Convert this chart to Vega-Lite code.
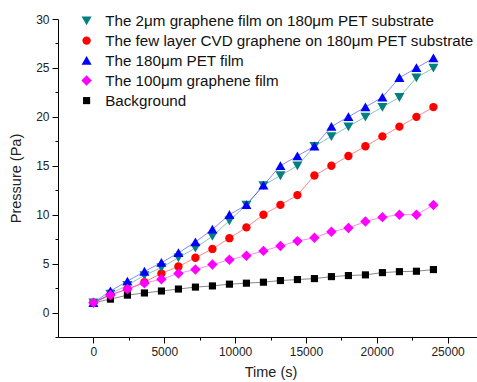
{
  "$schema": "https://vega.github.io/schema/vega-lite/v6.json",
  "autosize": {"type": "none"},
  "padding": {"left": 58, "top": 19, "right": 0, "bottom": 45},
  "width": 425,
  "height": 318,
  "background": "white",
  "config": {
    "view": {"stroke": null},
    "font": "Liberation Sans",
    "axis": {"grid": false, "domainColor": "#000", "tickColor": "#000", "labelColor": "#222", "titleColor": "#222", "labelFontSize": 12, "titleFontSize": 14.5, "titleFontWeight": "normal", "labelFont": "Liberation Sans", "titleFont": "Liberation Sans"}
  },
  "data": {"values": [
    {"s": "Background", "t": 0, "p": 1.0}, {"s": "Background", "t": 1200, "p": 1.37}, {"s": "Background", "t": 2400, "p": 1.78}, {"s": "Background", "t": 3600, "p": 2.0}, {"s": "Background", "t": 4800, "p": 2.2}, {"s": "Background", "t": 6000, "p": 2.4}, {"s": "Background", "t": 7200, "p": 2.6}, {"s": "Background", "t": 8400, "p": 2.72}, {"s": "Background", "t": 9600, "p": 2.9}, {"s": "Background", "t": 10800, "p": 3.0}, {"s": "Background", "t": 12000, "p": 3.1}, {"s": "Background", "t": 13200, "p": 3.27}, {"s": "Background", "t": 14400, "p": 3.37}, {"s": "Background", "t": 15600, "p": 3.47}, {"s": "Background", "t": 16800, "p": 3.67}, {"s": "Background", "t": 18000, "p": 3.78}, {"s": "Background", "t": 19200, "p": 3.85}, {"s": "Background", "t": 20400, "p": 4.08}, {"s": "Background", "t": 21600, "p": 4.18}, {"s": "Background", "t": 22800, "p": 4.22}, {"s": "Background", "t": 24000, "p": 4.39},
    {"s": "The few layer CVD graphene on 180μm PET substrate", "t": 0, "p": 1.0}, {"s": "The few layer CVD graphene on 180μm PET substrate", "t": 1200, "p": 1.8}, {"s": "The few layer CVD graphene on 180μm PET substrate", "t": 2400, "p": 2.4}, {"s": "The few layer CVD graphene on 180μm PET substrate", "t": 3600, "p": 3.1}, {"s": "The few layer CVD graphene on 180μm PET substrate", "t": 4800, "p": 4.0}, {"s": "The few layer CVD graphene on 180μm PET substrate", "t": 6000, "p": 4.7}, {"s": "The few layer CVD graphene on 180μm PET substrate", "t": 7200, "p": 5.6}, {"s": "The few layer CVD graphene on 180μm PET substrate", "t": 8400, "p": 6.5}, {"s": "The few layer CVD graphene on 180μm PET substrate", "t": 9600, "p": 7.6}, {"s": "The few layer CVD graphene on 180μm PET substrate", "t": 10800, "p": 8.7}, {"s": "The few layer CVD graphene on 180μm PET substrate", "t": 12000, "p": 10.0}, {"s": "The few layer CVD graphene on 180μm PET substrate", "t": 13200, "p": 11.0}, {"s": "The few layer CVD graphene on 180μm PET substrate", "t": 14400, "p": 12.0}, {"s": "The few layer CVD graphene on 180μm PET substrate", "t": 15600, "p": 14.0}, {"s": "The few layer CVD graphene on 180μm PET substrate", "t": 16800, "p": 15.0}, {"s": "The few layer CVD graphene on 180μm PET substrate", "t": 18000, "p": 16.0}, {"s": "The few layer CVD graphene on 180μm PET substrate", "t": 19200, "p": 17.0}, {"s": "The few layer CVD graphene on 180μm PET substrate", "t": 20400, "p": 18.0}, {"s": "The few layer CVD graphene on 180μm PET substrate", "t": 21600, "p": 19.0}, {"s": "The few layer CVD graphene on 180μm PET substrate", "t": 22800, "p": 20.0}, {"s": "The few layer CVD graphene on 180μm PET substrate", "t": 24000, "p": 21.0},
    {"s": "The 2μm graphene film on 180μm PET substrate", "t": 0, "p": 1.0}, {"s": "The 2μm graphene film on 180μm PET substrate", "t": 1200, "p": 1.9}, {"s": "The 2μm graphene film on 180μm PET substrate", "t": 2400, "p": 2.8}, {"s": "The 2μm graphene film on 180μm PET substrate", "t": 3600, "p": 3.8}, {"s": "The 2μm graphene film on 180μm PET substrate", "t": 4800, "p": 4.6}, {"s": "The 2μm graphene film on 180μm PET substrate", "t": 6000, "p": 5.6}, {"s": "The 2μm graphene film on 180μm PET substrate", "t": 7200, "p": 6.6}, {"s": "The 2μm graphene film on 180μm PET substrate", "t": 8400, "p": 7.8}, {"s": "The 2μm graphene film on 180μm PET substrate", "t": 9600, "p": 9.4}, {"s": "The 2μm graphene film on 180μm PET substrate", "t": 10800, "p": 11.0}, {"s": "The 2μm graphene film on 180μm PET substrate", "t": 12000, "p": 13.0}, {"s": "The 2μm graphene film on 180μm PET substrate", "t": 13200, "p": 14.0}, {"s": "The 2μm graphene film on 180μm PET substrate", "t": 14400, "p": 15.0}, {"s": "The 2μm graphene film on 180μm PET substrate", "t": 15600, "p": 17.0}, {"s": "The 2μm graphene film on 180μm PET substrate", "t": 16800, "p": 18.0}, {"s": "The 2μm graphene film on 180μm PET substrate", "t": 18000, "p": 19.0}, {"s": "The 2μm graphene film on 180μm PET substrate", "t": 19200, "p": 20.0}, {"s": "The 2μm graphene film on 180μm PET substrate", "t": 20400, "p": 21.0}, {"s": "The 2μm graphene film on 180μm PET substrate", "t": 21600, "p": 22.0}, {"s": "The 2μm graphene film on 180μm PET substrate", "t": 22800, "p": 24.0}, {"s": "The 2μm graphene film on 180μm PET substrate", "t": 24000, "p": 25.0},
    {"s": "The 180μm PET film", "t": 0, "p": 1.0}, {"s": "The 180μm PET film", "t": 1200, "p": 2.2}, {"s": "The 180μm PET film", "t": 2400, "p": 3.2}, {"s": "The 180μm PET film", "t": 3600, "p": 4.2}, {"s": "The 180μm PET film", "t": 4800, "p": 5.1}, {"s": "The 180μm PET film", "t": 6000, "p": 6.1}, {"s": "The 180μm PET film", "t": 7200, "p": 7.2}, {"s": "The 180μm PET film", "t": 8400, "p": 8.5}, {"s": "The 180μm PET film", "t": 9600, "p": 10.0}, {"s": "The 180μm PET film", "t": 10800, "p": 11.0}, {"s": "The 180μm PET film", "t": 12000, "p": 13.0}, {"s": "The 180μm PET film", "t": 13200, "p": 15.0}, {"s": "The 180μm PET film", "t": 14400, "p": 16.0}, {"s": "The 180μm PET film", "t": 15600, "p": 17.0}, {"s": "The 180μm PET film", "t": 16800, "p": 19.0}, {"s": "The 180μm PET film", "t": 18000, "p": 20.0}, {"s": "The 180μm PET film", "t": 19200, "p": 21.0}, {"s": "The 180μm PET film", "t": 20400, "p": 22.0}, {"s": "The 180μm PET film", "t": 21600, "p": 24.0}, {"s": "The 180μm PET film", "t": 22800, "p": 25.0}, {"s": "The 180μm PET film", "t": 24000, "p": 26.0},
    {"s": "The 100μm graphene film", "t": 0, "p": 1.0}, {"s": "The 100μm graphene film", "t": 1200, "p": 1.8}, {"s": "The 100μm graphene film", "t": 2400, "p": 2.4}, {"s": "The 100μm graphene film", "t": 3600, "p": 3.0}, {"s": "The 100μm graphene film", "t": 4800, "p": 3.4}, {"s": "The 100μm graphene film", "t": 6000, "p": 4.0}, {"s": "The 100μm graphene film", "t": 7200, "p": 4.4}, {"s": "The 100μm graphene film", "t": 8400, "p": 4.9}, {"s": "The 100μm graphene film", "t": 9600, "p": 5.4}, {"s": "The 100μm graphene film", "t": 10800, "p": 5.8}, {"s": "The 100μm graphene film", "t": 12000, "p": 6.3}, {"s": "The 100μm graphene film", "t": 13200, "p": 6.8}, {"s": "The 100μm graphene film", "t": 14400, "p": 7.3}, {"s": "The 100μm graphene film", "t": 15600, "p": 7.65}, {"s": "The 100μm graphene film", "t": 16800, "p": 8.25}, {"s": "The 100μm graphene film", "t": 18000, "p": 8.65}, {"s": "The 100μm graphene film", "t": 19200, "p": 9.3}, {"s": "The 100μm graphene film", "t": 20400, "p": 9.75}, {"s": "The 100μm graphene film", "t": 21600, "p": 10.0}, {"s": "The 100μm graphene film", "t": 22800, "p": 10.0}, {"s": "The 100μm graphene film", "t": 24000, "p": 11.0}
  ]},
  "encoding": {
    "x": {"field": "t", "type": "quantitative", "scale": {"domain": [-2500, 27500], "nice": false, "zero": false},
      "axis": {"title": "Time (s)", "values": [0, 2500, 5000, 7500, 10000, 12500, 15000, 17500, 20000, 22500, 25000, 27500], "format": "d", "labelExpr": "datum.value % 5000 === 0 ? datum.label : ''", "tickSize": {"condition": {"test": "datum.value % 5000 === 0", "value": 6}, "value": 3}, "labelPadding": 3, "titlePadding": 8, "labelFlush": false}},
    "y": {"field": "p", "type": "quantitative", "scale": {"domain": [-2.5, 30], "nice": false, "zero": false},
      "axis": {"title": "Pressure (Pa)", "values": [-2.5, 0, 2.5, 5, 7.5, 10, 12.5, 15, 17.5, 20, 22.5, 25, 27.5, 30], "labelExpr": "datum.value % 5 === 0 ? datum.label : ''", "tickSize": {"condition": {"test": "datum.value % 5 === 0", "value": 6}, "value": 3}, "labelPadding": 3, "titlePadding": 12, "labelFlush": false}},
    "color": {"field": "s", "type": "nominal", "scale": {"domain": ["The 2μm graphene film on 180μm PET substrate", "The few layer CVD graphene on 180μm PET substrate", "The 180μm PET film", "The 100μm graphene film", "Background"], "range": ["#008080", "#ff0000", "#0000ff", "#ff00ff", "#000000"]},
      "legend": {"title": null, "orient": "none", "legendX": 21, "legendY": -6, "labelFontSize": 15.2, "labelColor": "#111", "labelFont": "Liberation Sans", "symbolSize": 70, "symbolOpacity": 1, "rowPadding": 4, "labelOffset": 11, "padding": 0, "symbolStrokeWidth": 0, "labelLimit": 420}}
  },
  "layer": [
    {"mark": {"type": "line", "strokeWidth": 0.8, "opacity": 0.6}, "encoding": {}},
    {"mark": {"type": "point", "filled": true, "opacity": 1, "size": 70},
     "encoding": {
       "shape": {"field": "s", "type": "nominal", "scale": {"domain": ["The 2μm graphene film on 180μm PET substrate", "The few layer CVD graphene on 180μm PET substrate", "The 180μm PET film", "The 100μm graphene film", "Background"], "range": ["M0,1.1L1.2,-1L-1.2,-1Z", "circle", "M0,-1.1L1.2,1L-1.2,1Z", "M0,-1.25L1.25,0L0,1.25L-1.25,0Z", "M-0.85,-0.85H0.85V0.85H-0.85Z"]},
         "legend": {"title": null, "orient": "none", "legendX": 21, "legendY": -6, "labelFontSize": 15.2, "labelColor": "#111", "labelFont": "Liberation Sans", "symbolSize": 70, "symbolOpacity": 1, "rowPadding": 4, "labelOffset": 11, "padding": 0, "symbolStrokeWidth": 0, "labelLimit": 420}}
     }}
  ]
}
